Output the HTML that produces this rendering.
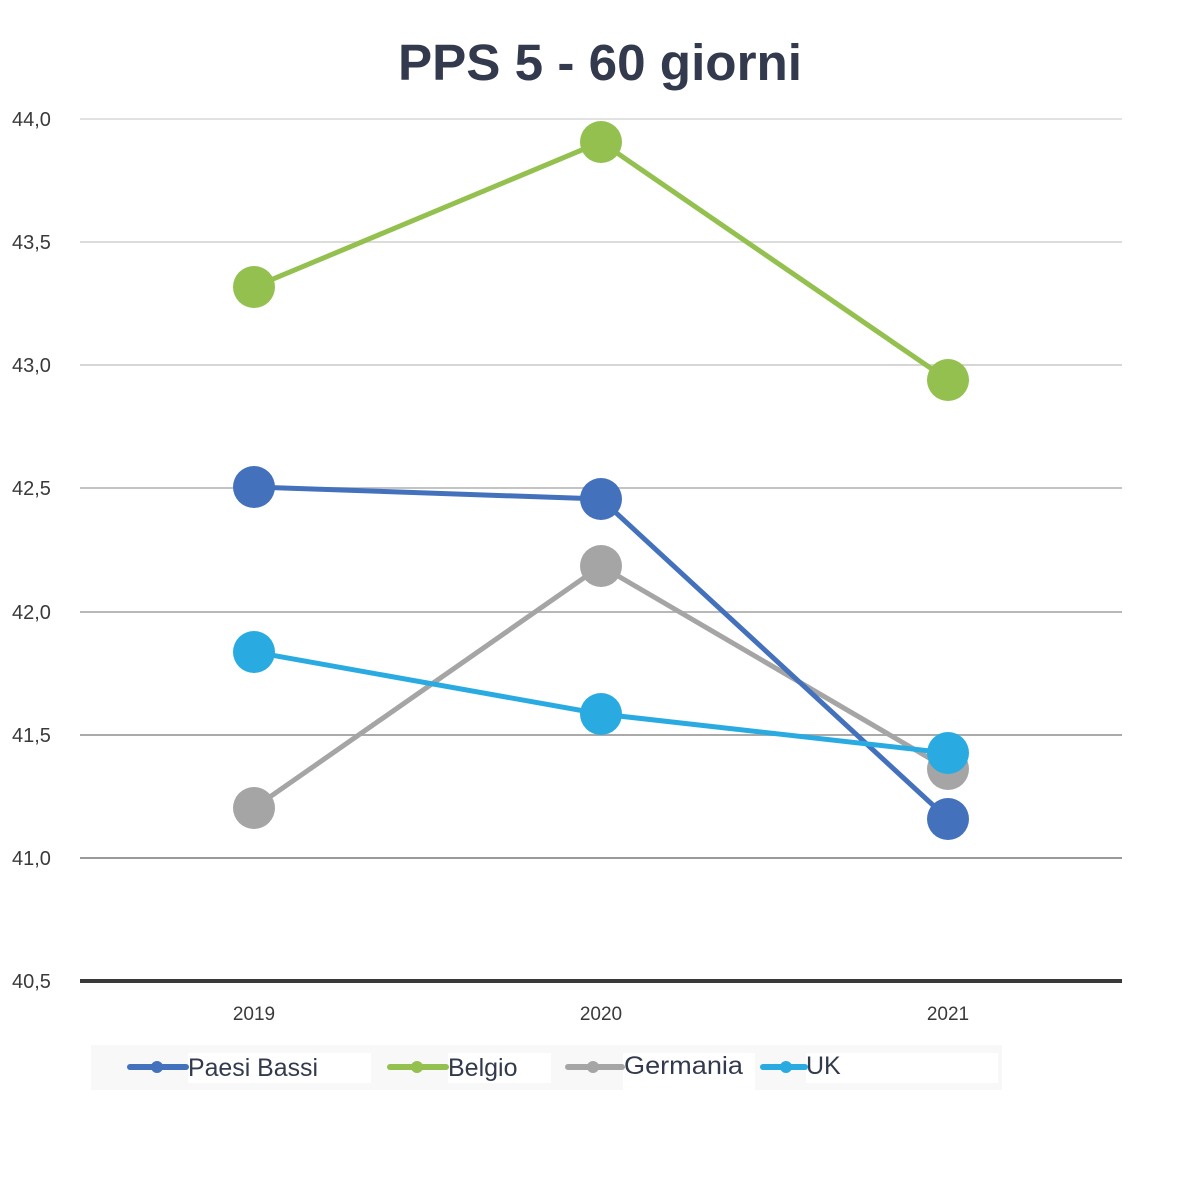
<!DOCTYPE html>
<html><head><meta charset="utf-8"><style>
html,body{margin:0;padding:0;background:#fff;}
svg{display:block;}
</style></head><body>
<svg width="1200" height="1200" xmlns="http://www.w3.org/2000/svg" font-family="'Liberation Sans', sans-serif">
<rect width="1200" height="1200" fill="#fff"/>
<text x="600" y="80" text-anchor="middle" font-size="51" font-weight="bold" fill="#333a4d" textLength="404" lengthAdjust="spacingAndGlyphs">PPS 5 - 60 giorni</text>
<g stroke-width="2">
<line x1="80" y1="119" x2="1122" y2="119" stroke="#e2e2e2"/>
<line x1="80" y1="242" x2="1122" y2="242" stroke="#dcdcdc"/>
<line x1="80" y1="365" x2="1122" y2="365" stroke="#d6d6d6"/>
<line x1="80" y1="488" x2="1122" y2="488" stroke="#c4c4c4"/>
<line x1="80" y1="612" x2="1122" y2="612" stroke="#b8b8b8"/>
<line x1="80" y1="735" x2="1122" y2="735" stroke="#aaaaaa"/>
<line x1="80" y1="858" x2="1122" y2="858" stroke="#999"/>
</g>
<line x1="80" y1="981" x2="1122" y2="981" stroke="#3a3a3a" stroke-width="4"/>
<g font-size="20" fill="#3a3a3a">
<text x="12" y="126">44,0</text><text x="12" y="249">43,5</text><text x="12" y="372">43,0</text>
<text x="12" y="495">42,5</text><text x="12" y="619">42,0</text><text x="12" y="742">41,5</text>
<text x="12" y="865">41,0</text><text x="12" y="988">40,5</text>
</g>
<g font-size="19" fill="#3a3a3a" text-anchor="middle">
<text x="254" y="1020">2019</text><text x="601" y="1020">2020</text><text x="948" y="1020">2021</text>
</g>
<g fill="none" stroke-width="5">
<polyline points="254,287 601,142 948,380" stroke="#93c04f"/>
<polyline points="254,808 601,566 948,769" stroke="#a5a5a5"/>
<polyline points="254,487 601,499 948,819" stroke="#4471bc"/>
<polyline points="254,652 601,714 948,753" stroke="#29abe2"/>
</g>
<g fill="#93c04f"><circle cx="254" cy="287" r="21"/><circle cx="601" cy="142" r="21"/><circle cx="948" cy="380" r="21"/></g>
<g fill="#a5a5a5"><circle cx="254" cy="808" r="21"/><circle cx="601" cy="566" r="21"/><circle cx="948" cy="769" r="21"/></g>
<g fill="#4471bc"><circle cx="254" cy="487" r="21"/><circle cx="601" cy="499" r="21"/><circle cx="948" cy="819" r="21"/></g>
<g fill="#29abe2"><circle cx="254" cy="652" r="21"/><circle cx="601" cy="714" r="21"/><circle cx="948" cy="753" r="21"/></g>
<rect x="91" y="1045" width="911" height="45" fill="#f8f8f8"/>
<rect x="188" y="1053" width="183" height="30" fill="#fff"/>
<rect x="448" y="1053" width="103" height="30" fill="#fff"/>
<rect x="623" y="1053" width="132" height="37" fill="#fff"/>
<rect x="806" y="1053" width="192" height="30" fill="#fff"/>
<g stroke-width="6" stroke-linecap="round">
<line x1="130" y1="1067" x2="186" y2="1067" stroke="#4471bc"/><circle cx="157" cy="1067" r="6" fill="#4471bc"/>
<line x1="390" y1="1067" x2="446" y2="1067" stroke="#93c04f"/><circle cx="417" cy="1067" r="6" fill="#93c04f"/>
<line x1="568" y1="1067" x2="622" y2="1067" stroke="#a5a5a5"/><circle cx="593" cy="1067" r="6" fill="#a5a5a5"/>
<line x1="763" y1="1067" x2="805" y2="1067" stroke="#29abe2"/><circle cx="786" cy="1067" r="6" fill="#29abe2"/>
</g>
<g font-size="25" fill="#333a4d">
<text x="188" y="1076" textLength="130" lengthAdjust="spacingAndGlyphs">Paesi Bassi</text><text x="448" y="1076">Belgio</text><text x="624" y="1074" textLength="119" lengthAdjust="spacingAndGlyphs">Germania</text><text x="806" y="1074">UK</text>
</g>
</svg>
</body></html>
